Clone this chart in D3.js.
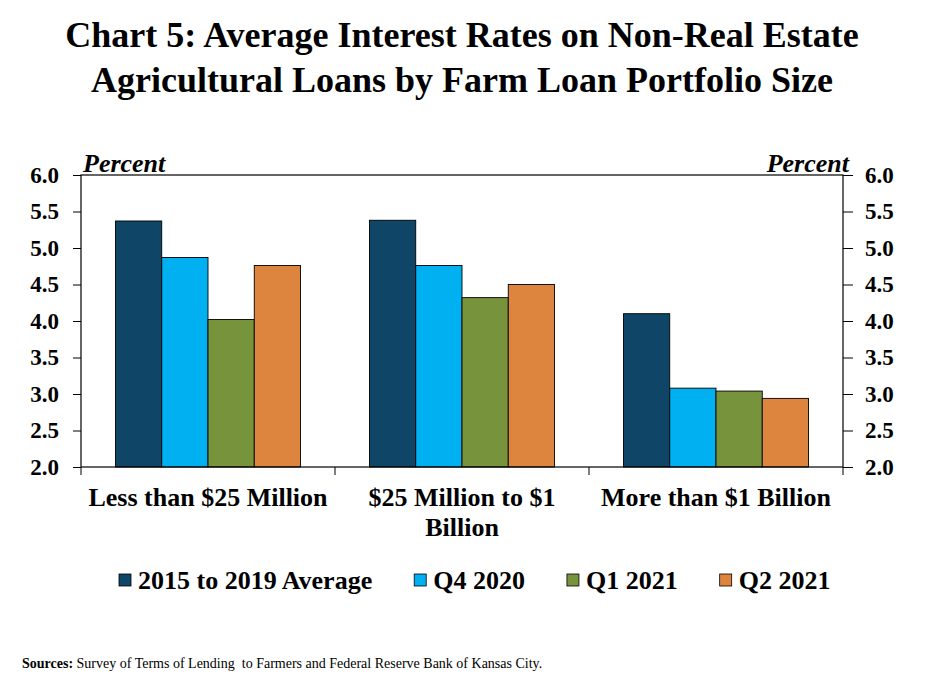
<!DOCTYPE html>
<html>
<head>
<meta charset="utf-8">
<script src="https://cdn.jsdelivr.net/npm/d3@7"></script>
<style>
  body { margin: 0; background: #fff; }
  svg { display: block; font-family: "Liberation Serif", "Times New Roman", serif; }
</style>
</head>
<body>
<div id="chart"></div>
<script>
// data
var categories = ["Less than $25 Million", "$25 Million to $1 Billion", "More than $1 Billion"];
var seriesNames = ["2015 to 2019 Average", "Q4 2020", "Q1 2021", "Q2 2021"];
var avg2015to2019 = [5.37, 5.38, 4.10];
var q4_2020 = [4.87, 4.76, 3.08];
var q1_2021 = [4.02, 4.32, 3.04];
var q2_2021 = [4.76, 4.50, 2.94];
var yTicks = [2.0, 2.5, 3.0, 3.5, 4.0, 4.5, 5.0, 5.5, 6.0];
var colors = ["#0f4567", "#00b0f0", "#77933c", "#dd843f"];

var seriesValues = [avg2015to2019, q4_2020, q1_2021, q2_2021];

var width = 925, height = 693;
var margin = {top: 175, right: 82, bottom: 226, left: 81};
var plotW = width - margin.left - margin.right,
    plotH = height - margin.top - margin.bottom;

var svg = d3.select("#chart").append("svg")
    .attr("width", width)
    .attr("height", height);

// title
var title = ["Chart 5: Average Interest Rates on Non-Real Estate",
             "Agricultural Loans by Farm Loan Portfolio Size"];
svg.append("g").selectAll("text")
    .data(title)
  .enter().append("text")
    .attr("x", 462)
    .attr("y", function(d, i) { return 47 + i * 45; })
    .attr("text-anchor", "middle")
    .style("font-size", "36px")
    .style("font-weight", "bold")
    .text(function(d) { return d; });

var x0 = d3.scaleBand()
    .domain(categories)
    .range([0, plotW]);

var x1 = d3.scaleBand()
    .domain(seriesNames)
    .range([0, x0.bandwidth()])
    .paddingOuter(0.745);

var y = d3.scaleLinear()
    .domain([2, 6])
    .range([plotH, 0]);

var g = svg.append("g")
    .attr("transform", "translate(" + margin.left + "," + margin.top + ")");

// bars
var rows = categories.map(function(c, i) {
  return seriesNames.map(function(s, j) { return {cat: c, series: s, value: seriesValues[j][i], idx: j}; });
});

var grp = g.selectAll(".grp")
    .data(rows)
  .enter().append("g")
    .attr("class", "grp")
    .attr("transform", function(d, i) { return "translate(" + x0(categories[i]) + ",0)"; });

grp.selectAll("rect")
    .data(function(d) { return d; })
  .enter().append("rect")
    .attr("x", function(d) { return x1(d.series); })
    .attr("y", function(d) { return y(d.value); })
    .attr("width", x1.bandwidth())
    .attr("height", function(d) { return y(2) - y(d.value); })
    .attr("fill", function(d) { return colors[d.idx]; })
    .attr("stroke", "#000")
    .attr("stroke-width", 0.9);

// axes
var yLeft = d3.axisLeft(y).tickValues(yTicks).tickFormat(d3.format(".1f")).tickSize(8).tickPadding(14);
var yRight = d3.axisRight(y).tickValues(yTicks).tickFormat(d3.format(".1f")).tickSize(10).tickPadding(12);

var ax = g.append("g").call(yLeft);
var ax2 = g.append("g").attr("transform", "translate(" + plotW + ",0)").call(yRight);

[ax, ax2].forEach(function(a) {
  a.select(".domain").remove();
  a.selectAll("line").attr("stroke", "#000");
  a.selectAll("text")
      .style("font-size", "23px")
      .style("font-weight", "bold")
      .style("font-family", "Liberation Serif, serif")
      .attr("fill", "#000");
});

// frame
g.append("rect")
    .attr("width", plotW)
    .attr("height", plotH)
    .attr("fill", "none")
    .attr("stroke", "#000")
    .attr("stroke-width", 1.2);

// category ticks under the axis
var bounds = categories.map(function(c) { return x0(c); }).concat([plotW]);
g.selectAll(".ctick")
    .data(bounds)
  .enter().append("line")
    .attr("x1", function(d) { return d; })
    .attr("x2", function(d) { return d; })
    .attr("y1", plotH)
    .attr("y2", plotH + 8)
    .attr("stroke", "#000");

// category labels, wrapped
var cl = g.selectAll(".clab")
    .data(categories)
  .enter().append("text")
    .attr("class", "clab")
    .attr("text-anchor", "middle")
    .style("font-size", "26px")
    .style("font-weight", "bold");

cl.each(function(d) {
  var t = d3.select(this), words = d.split(" "), line = [], lines = [];
  var probe = t.append("tspan");
  words.forEach(function(w) {
    line.push(w);
    probe.text(line.join(" "));
    if (probe.node().getComputedTextLength() > 248 && line.length > 1) {
      line.pop();
      lines.push(line.join(" "));
      line = [w];
    }
  });
  lines.push(line.join(" "));
  probe.remove();
  var cx = x0(d) + x0.bandwidth() / 2;
  lines.forEach(function(l, i) {
    t.append("tspan")
        .attr("x", cx)
        .attr("y", plotH + 39 + i * 30)
        .text(l);
  });
});

// "Percent" labels
g.append("text")
    .attr("x", 2)
    .attr("y", -3)
    .style("font-size", "26px")
    .style("font-weight", "bold")
    .style("font-style", "italic")
    .text("Percent");

g.append("text")
    .attr("x", plotW + 6)
    .attr("y", -3)
    .attr("text-anchor", "end")
    .style("font-size", "26px")
    .style("font-weight", "bold")
    .style("font-style", "italic")
    .text("Percent");

// legend
var legend = svg.append("g").attr("transform", "translate(119,0)");
var lx = 0;
seriesNames.forEach(function(s, i) {
  var it = legend.append("g").attr("transform", "translate(" + lx + ",0)");
  it.append("rect")
      .attr("x", 0)
      .attr("y", 574)
      .attr("width", 12)
      .attr("height", 12)
      .attr("fill", colors[i])
      .attr("stroke", "#000")
      .attr("stroke-width", 0.8);
  var tx = it.append("text")
      .attr("x", 19)
      .attr("y", 589)
      .style("font-size", "26px")
      .style("font-weight", "bold")
      .text(s);
  lx += 19 + tx.node().getComputedTextLength() + 42;
});

// sources
var src = svg.append("text")
    .attr("x", 22)
    .attr("y", 668)
    .style("font-size", "14px")
    .style("white-space", "pre");
src.append("tspan").style("font-weight", "bold").text("Sources:");
src.append("tspan").text(" Survey of Terms of Lending  to Farmers and Federal Reserve Bank of Kansas City.");
</script>
</body>
</html>
